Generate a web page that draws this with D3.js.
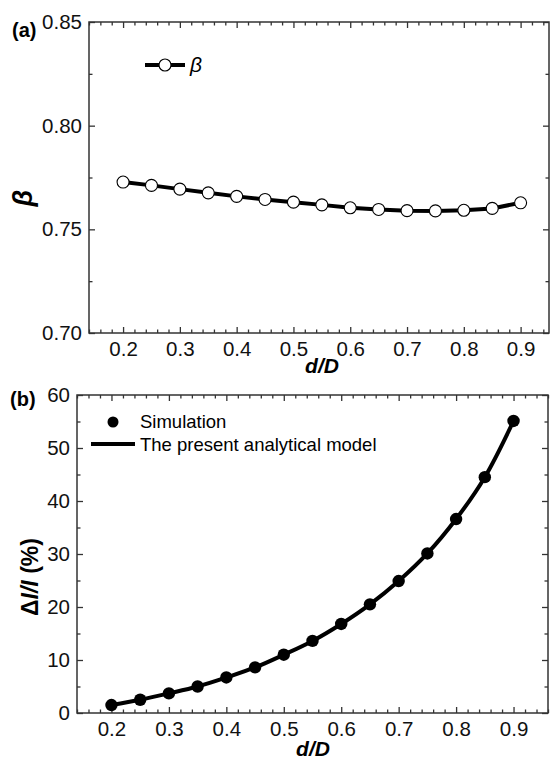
<!DOCTYPE html>
<html>
<head>
<meta charset="utf-8">
<script src="https://cdn.jsdelivr.net/npm/d3@7"></script>
<style>
  body { margin: 0; background: #fff; }
  svg { font-family: "Liberation Sans", Arial, sans-serif; }
</style>
</head>
<body>
<svg id="chart" width="550" height="760"></svg>
<script>
// shared x values (d/D)
const ratios = [0.2, 0.25, 0.3, 0.35, 0.4, 0.45, 0.5, 0.55, 0.6, 0.65, 0.7, 0.75, 0.8, 0.85, 0.9];

// panel (a): beta
const betaValues = [0.7728, 0.7712, 0.7694, 0.7676, 0.7659, 0.7644, 0.7631, 0.7618, 0.7604, 0.7596, 0.7590, 0.7589, 0.7592, 0.7601, 0.7628];

// panel (b): relative change dI/I (%)
const simValues = [1.5, 2.5, 3.7, 5.0, 6.7, 8.6, 11.0, 13.6, 16.8, 20.5, 24.9, 30.1, 36.6, 44.5, 55.1];
const modelValues = [1.5, 2.5, 3.7, 5.0, 6.7, 8.6, 11.0, 13.6, 16.8, 20.5, 24.9, 30.1, 36.6, 44.5, 55.1];

// tick labels
const xTicks = [0.2, 0.3, 0.4, 0.5, 0.6, 0.7, 0.8, 0.9];
const yTicksA = [0.70, 0.75, 0.80, 0.85];
const yTicksB = [0, 10, 20, 30, 40, 50, 60];

const svg = d3.select("#chart");
const axisColor = "#333";

function drawFrame(g, x, y, xMinor, yMinor, yFmt) {
  const [x0, x1] = x.range();
  const [y0, y1] = y.range();

  // minor ticks
  g.append("g").attr("transform", `translate(0,${y0})`)
    .call(d3.axisBottom(x).tickValues(xMinor).tickSize(-3.5).tickFormat(""));
  g.append("g").attr("transform", `translate(0,${y1})`)
    .call(d3.axisTop(x).tickValues(xMinor).tickSize(-3.5).tickFormat(""));
  g.append("g").attr("transform", `translate(${x0},0)`)
    .call(d3.axisLeft(y).tickValues(yMinor).tickSize(-3.5).tickFormat(""));
  g.append("g").attr("transform", `translate(${x1},0)`)
    .call(d3.axisRight(y).tickValues(yMinor).tickSize(-3.5).tickFormat(""));

  // major ticks
  g.append("g").attr("transform", `translate(0,${y0})`)
    .call(d3.axisBottom(x).tickValues(xTicks).tickSize(-6).tickPadding(8).tickFormat(d3.format(".1f")));
  g.append("g").attr("transform", `translate(0,${y1})`)
    .call(d3.axisTop(x).tickValues(xTicks).tickSize(-6).tickFormat(""));
  g.append("g").attr("transform", `translate(${x0},0)`)
    .call(d3.axisLeft(y).tickValues(y.ticksList).tickSize(-6).tickPadding(7).tickFormat(yFmt));
  g.append("g").attr("transform", `translate(${x1},0)`)
    .call(d3.axisRight(y).tickValues(y.ticksList).tickSize(-6).tickFormat(""));

  g.selectAll(".domain").remove();
  g.selectAll(".tick line").attr("stroke", axisColor).attr("stroke-width", 1.3);
  g.selectAll(".tick text").attr("fill", "#111").style("font-size", "20.5px")
    .style("font-family", "'Liberation Sans', Arial, sans-serif");

  g.append("rect")
    .attr("x", x0).attr("y", y1)
    .attr("width", x1 - x0).attr("height", y0 - y1)
    .attr("fill", "none").attr("stroke", axisColor).attr("stroke-width", 1.5);
}

function minorX(lo, hi) {
  return d3.range(Math.round(lo * 50), Math.round(hi * 50) + 1)
    .map(i => i / 50)
    .filter(v => Math.abs(v * 10 - Math.round(v * 10)) > 1e-6);
}

// ---------- panel (a) ----------
const ga = svg.append("g");
const xa = d3.scaleLinear().domain([0.14, 0.95]).range([89, 549]);
const ya = d3.scaleLinear().domain([0.70, 0.85]).range([333, 22]);
ya.ticksList = yTicksA;

drawFrame(ga, xa, ya, minorX(0.14, 0.94), [0.725, 0.775, 0.825], d3.format(".2f"));

const betaData = ratios.map((r, i) => ({x: r, y: betaValues[i]}));
ga.append("path")
  .datum(betaData)
  .attr("fill", "none")
  .attr("stroke", "#000")
  .attr("stroke-width", 4)
  .attr("d", d3.line().x(d => xa(d.x)).y(d => ya(d.y)));

ga.selectAll(".beta-pt")
  .data(betaData)
  .enter()
  .append("circle")
  .attr("class", "beta-pt")
  .attr("cx", d => xa(d.x))
  .attr("cy", d => ya(d.y))
  .attr("r", 6)
  .attr("fill", "#fff")
  .attr("stroke", "#000")
  .attr("stroke-width", 1.1);

// legend (a)
ga.append("line").attr("x1", 145).attr("x2", 185).attr("y1", 65).attr("y2", 65)
  .attr("stroke", "#000").attr("stroke-width", 4);
ga.append("circle").attr("cx", 165).attr("cy", 65).attr("r", 6)
  .attr("fill", "#fff").attr("stroke", "#000").attr("stroke-width", 1.1);
ga.append("text").attr("x", 190).attr("y", 72)
  .style("font-size", "21px").style("font-style", "italic")
  .text("β");

ga.append("text").attr("x", 12).attr("y", 37)
  .style("font-size", "20px").style("font-weight", "bold").text("(a)");

ga.append("text")
  .attr("transform", "translate(32,198) rotate(-90)")
  .attr("text-anchor", "middle")
  .style("font-size", "27px").style("font-weight", "bold").style("font-style", "italic")
  .text("β");

ga.append("text").attr("x", 322).attr("y", 373)
  .attr("text-anchor", "middle")
  .style("font-size", "21px").style("font-weight", "bold").style("font-style", "italic")
  .text("d/D");

// ---------- panel (b) ----------
const gb = svg.append("g");
const xb = d3.scaleLinear().domain([0.14, 0.96]).range([77, 548]);
const yb = d3.scaleLinear().domain([0, 60]).range([713, 395]);
yb.ticksList = yTicksB;

drawFrame(gb, xb, yb, minorX(0.14, 0.96), [5, 15, 25, 35, 45, 55], d3.format("d"));

const modelData = ratios.map((r, i) => ({x: r, y: modelValues[i]}));
const simData = ratios.map((r, i) => ({x: r, y: simValues[i]}));

gb.append("path")
  .datum(modelData)
  .attr("fill", "none")
  .attr("stroke", "#000")
  .attr("stroke-width", 4)
  .attr("d", d3.line().curve(d3.curveCatmullRom).x(d => xb(d.x)).y(d => yb(d.y)));

gb.selectAll(".sim-pt")
  .data(simData)
  .enter()
  .append("circle")
  .attr("class", "sim-pt")
  .attr("cx", d => xb(d.x))
  .attr("cy", d => yb(d.y))
  .attr("r", 6.2)
  .attr("fill", "#000");

// legend (b)
gb.append("circle").attr("cx", 113).attr("cy", 422).attr("r", 5.5).attr("fill", "#000");
gb.append("text").attr("x", 140).attr("y", 428)
  .style("font-size", "18.5px").text("Simulation");
gb.append("line").attr("x1", 91).attr("x2", 135).attr("y1", 444).attr("y2", 444)
  .attr("stroke", "#000").attr("stroke-width", 4);
gb.append("text").attr("x", 140).attr("y", 451)
  .style("font-size", "18.5px").text("The present analytical model");

gb.append("text").attr("x", 10).attr("y", 406)
  .style("font-size", "20px").style("font-weight", "bold").text("(b)");

const ylb = gb.append("text")
  .attr("transform", "translate(38,577) rotate(-90)")
  .attr("text-anchor", "middle")
  .style("font-size", "23px").style("font-weight", "bold");
ylb.append("tspan").text("Δ");
ylb.append("tspan").style("font-style", "italic").text("I/I");
ylb.append("tspan").text(" (%)");

gb.append("text").attr("x", 313).attr("y", 756)
  .attr("text-anchor", "middle")
  .style("font-size", "21px").style("font-weight", "bold").style("font-style", "italic")
  .text("d/D");
</script>
</body>
</html>
